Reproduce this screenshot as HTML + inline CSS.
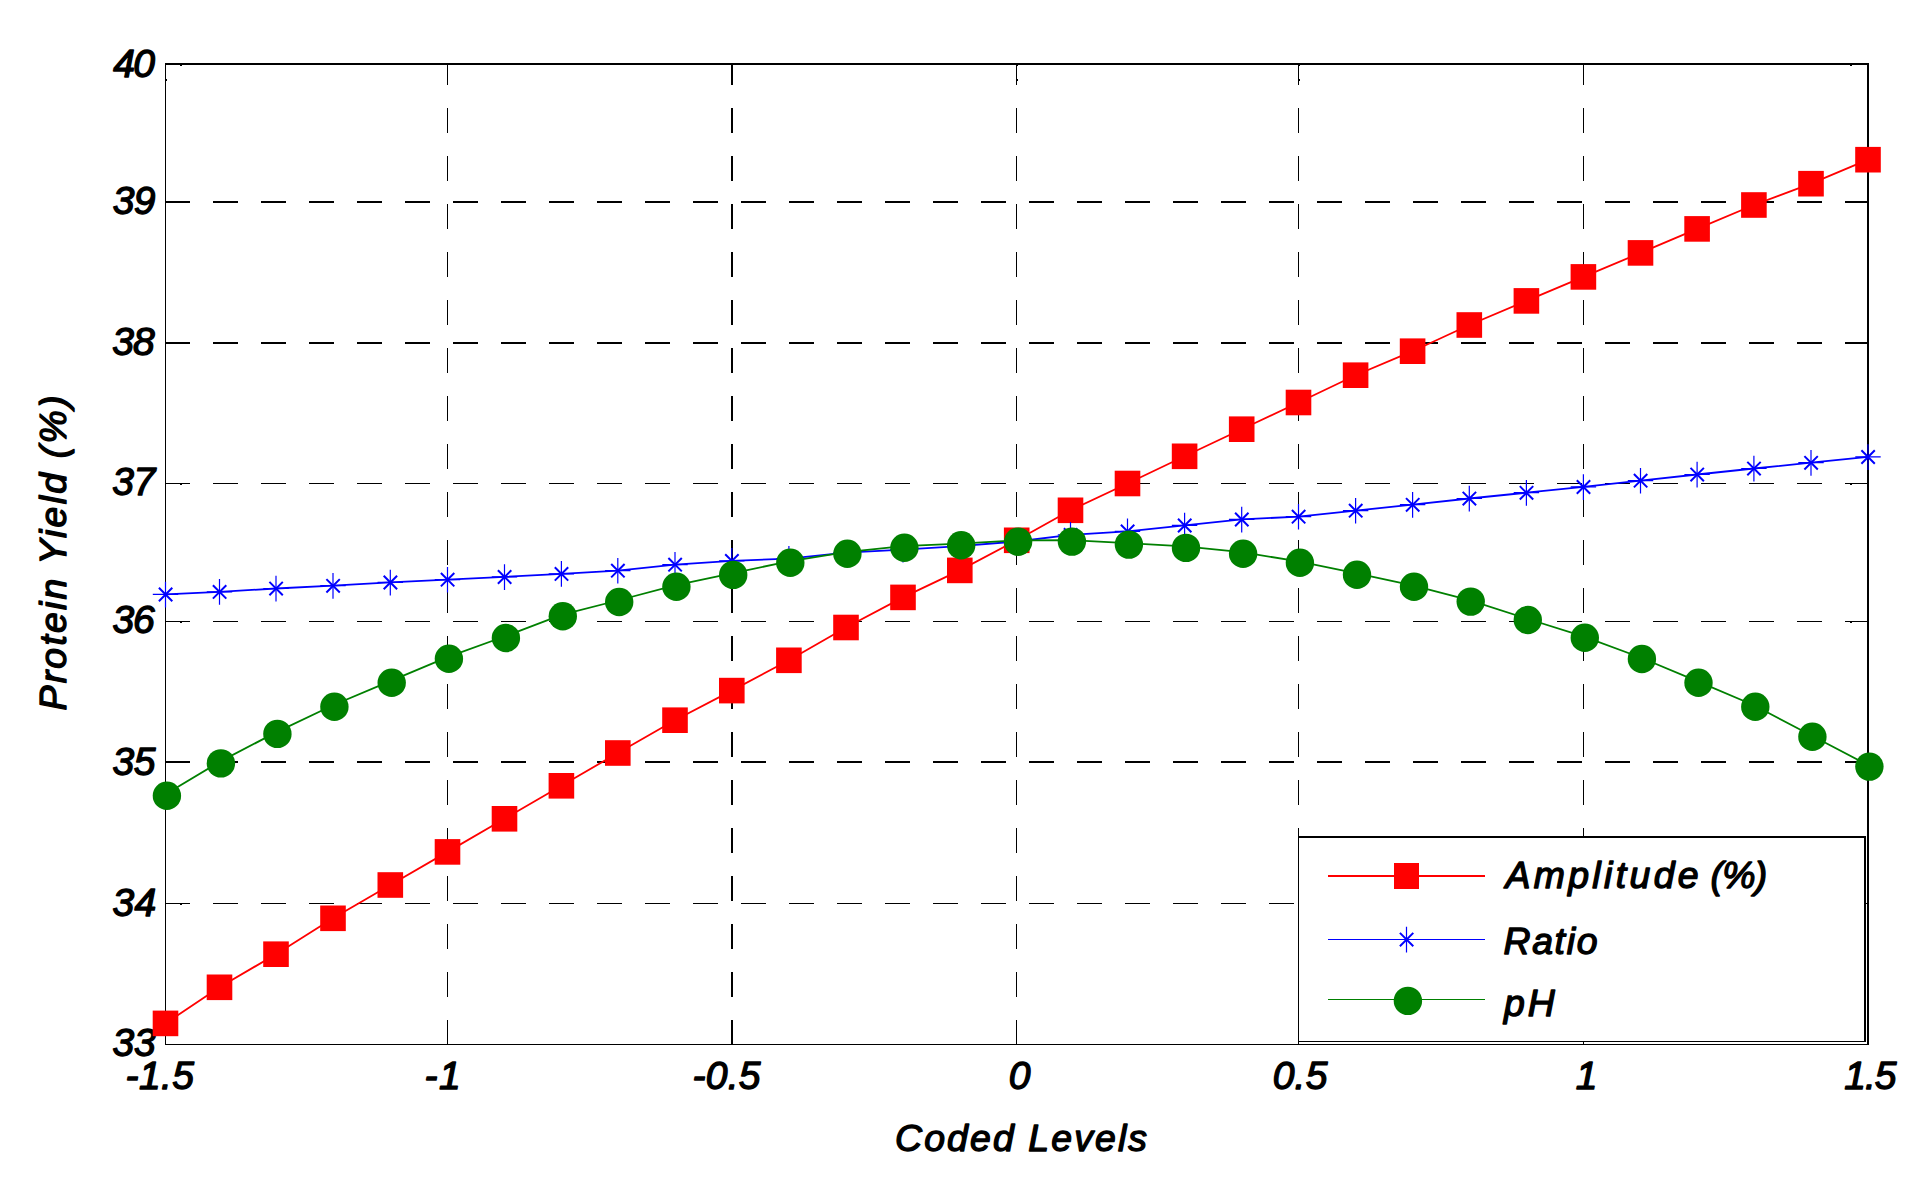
<!DOCTYPE html>
<html lang="en"><head><meta charset="utf-8"><title>Protein Yield vs Coded Levels</title>
<style>
html,body{margin:0;padding:0;background:#fff;}
body{width:1928px;height:1188px;overflow:hidden;}
svg{display:block;}
text{font-family:"Liberation Sans",sans-serif;font-style:italic;font-size:39px;fill:#000;stroke:#000;stroke-width:1.35px;stroke-linejoin:round;letter-spacing:1.6px;}
.g{stroke:#000;fill:none;shape-rendering:crispEdges;}
</style></head><body>
<svg width="1928" height="1188" viewBox="0 0 1928 1188">
<rect width="1928" height="1188" fill="#fff"/>
<g class="g" stroke-dasharray="25 23">
<line x1="165" x2="1867" y1="202.0" y2="202.0" stroke-width="2"/>
<line x1="165" x2="1867" y1="343.0" y2="343.0" stroke-width="2"/>
<line x1="165" x2="1867" y1="483.5" y2="483.5" stroke-width="1"/>
<line x1="165" x2="1867" y1="621.5" y2="621.5" stroke-width="1"/>
<line x1="165" x2="1867" y1="762.0" y2="762.0" stroke-width="2"/>
<line x1="165" x2="1867" y1="903.5" y2="903.5" stroke-width="1"/>
<line y1="63" y2="1044" x1="447.5" x2="447.5" stroke-width="1" stroke-dashoffset="3"/>
<line y1="63" y2="1044" x1="732.0" x2="732.0" stroke-width="2" stroke-dashoffset="3"/>
<line y1="63" y2="1044" x1="1016.5" x2="1016.5" stroke-width="1" stroke-dashoffset="3"/>
<line y1="63" y2="1044" x1="1298.5" x2="1298.5" stroke-width="1" stroke-dashoffset="3"/>
<line y1="63" y2="1044" x1="1583.5" x2="1583.5" stroke-width="1" stroke-dashoffset="3"/>
</g>
<g fill="#000" shape-rendering="crispEdges">
<rect x="165" y="63" width="1704" height="2"/>
<rect x="165" y="1044" width="1704" height="1"/>
<rect x="165" y="63" width="1" height="982"/>
<rect x="1867" y="63" width="2" height="982"/>
</g>
<g fill="#000" shape-rendering="crispEdges">
<rect x="180" y="484" width="2" height="1"/>
<rect x="1850" y="484" width="2" height="1"/>
<rect x="180" y="622" width="2" height="1"/>
<rect x="1850" y="622" width="2" height="1"/>
<rect x="180" y="904" width="2" height="1"/>
<rect x="1850" y="904" width="2" height="1"/>
<rect x="180" y="65" width="2" height="1"/><rect x="1850" y="65" width="2" height="1"/><rect x="166" y="79" width="1" height="2"/>
<rect x="1017" y="65" width="1" height="1"/><rect x="1017" y="79" width="1" height="2"/>
<rect x="1299" y="65" width="1" height="1"/><rect x="1299" y="79" width="1" height="2"/>
</g>
<text x="113.25" y="76.50" style="letter-spacing:-1.76px">40</text>
<text x="112.71" y="214.06" style="letter-spacing:-0.72px">39</text>
<text x="112.36" y="354.52" style="letter-spacing:-0.98px">38</text>
<text x="112.36" y="495.45" style="letter-spacing:-0.49px">37</text>
<text x="112.39" y="633.34" style="letter-spacing:-1.05px">36</text>
<text x="112.39" y="774.54" style="letter-spacing:-0.23px">35</text>
<text x="112.39" y="915.50" style="letter-spacing:0.35px">34</text>
<text x="112.39" y="1055.55" style="letter-spacing:-0.04px">33</text>
<text x="125.61" y="1089.25" style="letter-spacing:0.40px">-1.5</text>
<text x="424.61" y="1089.00" style="letter-spacing:1.42px">-1</text>
<text x="692.62" y="1088.80" style="letter-spacing:0.21px">-0.5</text>
<text x="1008.69" y="1088.67" style="letter-spacing:0.60px">0</text>
<text x="1272.67" y="1088.80" style="letter-spacing:0.27px">0.5</text>
<text x="1575.75" y="1088.65" style="letter-spacing:0.60px">1</text>
<text x="1844.17" y="1088.50" style="letter-spacing:-0.96px">1.5</text>
<text x="895.08" y="1151.45" style="letter-spacing:2.12px;font-size:37.4px">Coded Levels</text>
<text transform="translate(66.27,710.53) rotate(-90)" style="letter-spacing:2.24px;font-size:37.4px">Protein Yield (%)</text>
<polyline points="165.5,1023.4 219.5,987.3 276,954.2 333,918.3 390.3,885.0 447.5,851.9 504.5,818.8 561.4,785.8 617.8,753.0 675,720.2 731.8,690.6 788.9,660.3 846,627.5 903,597.4 959.8,570.4 1016.7,540.3 1070.5,510.3 1127.5,483.5 1184.6,456.3 1241.7,429.2 1298.5,402.5 1355.6,375.2 1412.6,351.2 1469.3,325 1526.4,300.9 1583.4,276.9 1640.5,252.9 1697.1,228.9 1753.9,205.0 1811,183.7 1868,159.7" fill="none" stroke="#f00" stroke-width="1.8"/>
<g fill="#f00">
<rect x="152.7" y="1010.6" width="25.6" height="25.6"/>
<rect x="206.7" y="974.5" width="25.6" height="25.6"/>
<rect x="263.2" y="941.4" width="25.6" height="25.6"/>
<rect x="320.2" y="905.5" width="25.6" height="25.6"/>
<rect x="377.5" y="872.2" width="25.6" height="25.6"/>
<rect x="434.7" y="839.1" width="25.6" height="25.6"/>
<rect x="491.7" y="806.0" width="25.6" height="25.6"/>
<rect x="548.6" y="773.0" width="25.6" height="25.6"/>
<rect x="605.0" y="740.2" width="25.6" height="25.6"/>
<rect x="662.2" y="707.4" width="25.6" height="25.6"/>
<rect x="719.0" y="677.8" width="25.6" height="25.6"/>
<rect x="776.1" y="647.5" width="25.6" height="25.6"/>
<rect x="833.2" y="614.7" width="25.6" height="25.6"/>
<rect x="890.2" y="584.6" width="25.6" height="25.6"/>
<rect x="947.0" y="557.6" width="25.6" height="25.6"/>
<rect x="1003.9" y="527.5" width="25.6" height="25.6"/>
<rect x="1057.7" y="497.5" width="25.6" height="25.6"/>
<rect x="1114.7" y="470.7" width="25.6" height="25.6"/>
<rect x="1171.8" y="443.5" width="25.6" height="25.6"/>
<rect x="1228.9" y="416.4" width="25.6" height="25.6"/>
<rect x="1285.7" y="389.7" width="25.6" height="25.6"/>
<rect x="1342.8" y="362.4" width="25.6" height="25.6"/>
<rect x="1399.8" y="338.4" width="25.6" height="25.6"/>
<rect x="1456.5" y="312.2" width="25.6" height="25.6"/>
<rect x="1513.6" y="288.1" width="25.6" height="25.6"/>
<rect x="1570.6" y="264.1" width="25.6" height="25.6"/>
<rect x="1627.7" y="240.1" width="25.6" height="25.6"/>
<rect x="1684.3" y="216.1" width="25.6" height="25.6"/>
<rect x="1741.1" y="192.2" width="25.6" height="25.6"/>
<rect x="1798.2" y="170.9" width="25.6" height="25.6"/>
<rect x="1855.2" y="146.9" width="25.6" height="25.6"/>
</g>
<polyline points="165.5,594.4 219.5,591.8 276,588.5 333,585.7 390.3,582.4 447.5,579.6 504.5,576.9 561.4,573.8 617.8,570.6 675,564.6 731.8,560.8 788.9,558.6 846,552.6 903,549.6 959.8,546.2 1016.7,541.5 1070.5,534.8 1127.5,531.3 1184.6,525.4 1241.7,519.4 1298.5,516.6 1355.6,510.6 1412.6,504.7 1469.3,498.5 1526.4,492.7 1583.4,486.9 1640.5,480.6 1697.1,474.5 1753.9,468.5 1811,462.7 1868,456.9" fill="none" stroke="#00f" stroke-width="1.8"/>
<defs><g id="ast" stroke="#00f" fill="none"><path d="M0-12.7V13M-12.7 0H12.7" stroke-width="1.2"/><path d="M-6.6-6.6L6.8 6.8M-6.6 6.8L6.8-6.6" stroke-width="2"/></g></defs>
<use href="#ast" x="165.5" y="594.4"/>
<use href="#ast" x="219.5" y="591.8"/>
<use href="#ast" x="276" y="588.5"/>
<use href="#ast" x="333" y="585.7"/>
<use href="#ast" x="390.3" y="582.4"/>
<use href="#ast" x="447.5" y="579.6"/>
<use href="#ast" x="504.5" y="576.9"/>
<use href="#ast" x="561.4" y="573.8"/>
<use href="#ast" x="617.8" y="570.6"/>
<use href="#ast" x="675" y="564.6"/>
<use href="#ast" x="731.8" y="560.8"/>
<use href="#ast" x="788.9" y="558.6"/>
<use href="#ast" x="846" y="552.6"/>
<use href="#ast" x="903" y="549.6"/>
<use href="#ast" x="959.8" y="546.2"/>
<use href="#ast" x="1016.7" y="541.5"/>
<use href="#ast" x="1070.5" y="534.8"/>
<use href="#ast" x="1127.5" y="531.3"/>
<use href="#ast" x="1184.6" y="525.4"/>
<use href="#ast" x="1241.7" y="519.4"/>
<use href="#ast" x="1298.5" y="516.6"/>
<use href="#ast" x="1355.6" y="510.6"/>
<use href="#ast" x="1412.6" y="504.7"/>
<use href="#ast" x="1469.3" y="498.5"/>
<use href="#ast" x="1526.4" y="492.7"/>
<use href="#ast" x="1583.4" y="486.9"/>
<use href="#ast" x="1640.5" y="480.6"/>
<use href="#ast" x="1697.1" y="474.5"/>
<use href="#ast" x="1753.9" y="468.5"/>
<use href="#ast" x="1811" y="462.7"/>
<use href="#ast" x="1868" y="456.9"/>
<polyline points="165.5,794.3 219.5,761.9 276,732.4 333,705.2 390.3,681.2 447.5,657.2 504.5,636.5 561.4,614.8 617.8,600.5 675,585.3 731.8,573.4 788.9,561.3 846,552.2 903,546.2 959.8,543.7 1016.7,540.3 1070.5,540.1 1127.5,543.1 1184.6,546.4 1241.7,552.2 1298.5,561.3 1355.6,573.2 1412.6,585.3 1469.3,600.1 1526.4,618.5 1583.4,636.3 1640.5,657.5 1697.1,681.2 1753.9,705.2 1811,735.3 1868,765.1" fill="none" stroke="#008000" stroke-width="1.8"/>
<g fill="#008000">
<circle cx="166.9" cy="795.8" r="14.2"/>
<circle cx="220.9" cy="763.4" r="14.2"/>
<circle cx="277.4" cy="733.9" r="14.2"/>
<circle cx="334.4" cy="706.7" r="14.2"/>
<circle cx="391.7" cy="682.7" r="14.2"/>
<circle cx="448.9" cy="658.7" r="14.2"/>
<circle cx="505.9" cy="638.0" r="14.2"/>
<circle cx="562.8" cy="616.3" r="14.2"/>
<circle cx="619.2" cy="602.0" r="14.2"/>
<circle cx="676.4" cy="586.8" r="14.2"/>
<circle cx="733.2" cy="574.9" r="14.2"/>
<circle cx="790.3" cy="562.8" r="14.2"/>
<circle cx="847.4" cy="553.7" r="14.2"/>
<circle cx="904.4" cy="547.7" r="14.2"/>
<circle cx="961.2" cy="545.2" r="14.2"/>
<circle cx="1018.1" cy="541.8" r="14.2"/>
<circle cx="1071.9" cy="541.6" r="14.2"/>
<circle cx="1128.9" cy="544.6" r="14.2"/>
<circle cx="1186.0" cy="547.9" r="14.2"/>
<circle cx="1243.1" cy="553.7" r="14.2"/>
<circle cx="1299.9" cy="562.8" r="14.2"/>
<circle cx="1357.0" cy="574.7" r="14.2"/>
<circle cx="1414.0" cy="586.8" r="14.2"/>
<circle cx="1470.7" cy="601.6" r="14.2"/>
<circle cx="1527.8" cy="620" r="14.2"/>
<circle cx="1584.8" cy="637.8" r="14.2"/>
<circle cx="1641.9" cy="659" r="14.2"/>
<circle cx="1698.5" cy="682.7" r="14.2"/>
<circle cx="1755.3" cy="706.7" r="14.2"/>
<circle cx="1812.4" cy="736.8" r="14.2"/>
<circle cx="1869.4" cy="766.6" r="14.2"/>
</g>
<g shape-rendering="crispEdges">
<rect x="1298" y="836" width="568" height="206" fill="#fff"/>
<rect x="1298" y="836" width="568" height="2" fill="#000"/>
<rect x="1298" y="1041" width="568" height="1" fill="#000"/>
<rect x="1298" y="836" width="1" height="206" fill="#000"/>
<rect x="1864" y="836" width="2" height="206" fill="#000"/>
<rect x="1328" y="875" width="157" height="2" fill="#f00"/>
<rect x="1394" y="863" width="25" height="26" fill="#f00"/>
<rect x="1328" y="939" width="157" height="1" fill="#00f"/>
<rect x="1328" y="999" width="157" height="1" fill="#008000"/>
</g>
<use href="#ast" x="1406.5" y="939.5"/>
<circle cx="1407.9" cy="1000.9" r="14.2" fill="#008000"/>
<text x="1505.39" y="888.25" style="font-size:37.4px;letter-spacing:3.37px">Amplitude <tspan x="1710.44" style="letter-spacing:-0.75px">(%)</tspan></text>
<text x="1503.46" y="954.40" style="letter-spacing:1.67px;font-size:37.4px">Ratio</text>
<text x="1503.96" y="1016.20" style="letter-spacing:2.91px;font-size:37.4px">pH</text>
</svg></body></html>
